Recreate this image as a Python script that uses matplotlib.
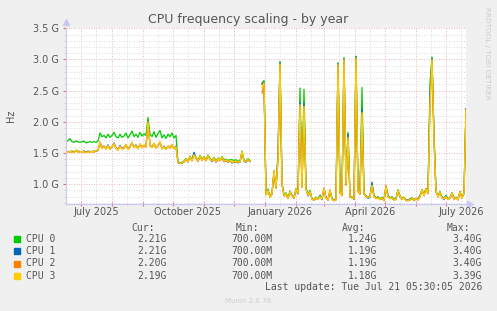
import numpy as np
import matplotlib
matplotlib.use("Agg")
import matplotlib.pyplot as plt
import matplotlib.dates as mdates
from matplotlib.ticker import MultipleLocator, FuncFormatter
from matplotlib.patches import Rectangle

nan = np.nan

# one sample every 2 days, starting 2025-06-16, values in GHz
start = np.datetime64("2025-06-16")
end = np.datetime64("2026-07-21")

cpu0 = [
    # jun - oct 2025
    1.68, 1.70, 1.73, 1.68, 1.67, 1.69, 1.68, 1.67, 1.68, 1.69,
    1.66, 1.67, 1.68, 1.67, 1.68, 1.67, 1.69, 1.82, 1.76, 1.78,
    1.74, 1.80, 1.75, 1.78, 1.83, 1.76, 1.74, 1.80, 1.75, 1.77,
    1.82, 1.74, 1.79, 1.85, 1.76, 1.80, 1.75, 1.83, 1.77, 1.81,
    1.78, 2.07, 1.80, 1.76, 1.84, 1.75, 1.81, 1.86, 1.74, 1.79,
    1.73, 1.80, 1.76, 1.82, 1.74, 1.78,
    # oct - dec 2025
    1.36, 1.34, 1.35, 1.37,
    1.41, 1.37, 1.45, 1.39, 1.48, 1.43, 1.38, 1.46, 1.40, 1.44,
    1.39, 1.47, 1.41, 1.38, 1.43, 1.37, 1.42, 1.39, 1.44, 1.39,
    1.40, 1.38, 1.39, 1.39, 1.38, 1.39, 1.37, 1.37, 1.53, 1.39,
    1.37, 1.41, 1.38,
    nan, nan, nan, nan, nan,
    # dec 2025 - jul 2026
    2.62, 2.66, 0.86, 0.92, 0.80, 0.86, 1.18, 0.96, 1.42, 2.97,
    1.02, 0.82, 0.86, 0.78, 0.89, 0.82, 0.79, 0.93, 0.86, 2.54,
    0.97, 2.52, 0.94, 0.84, 0.90, 0.76, 0.75, 0.79, 0.76, 0.82,
    0.77, 0.92, 0.79, 0.75, 0.89, 0.77, 0.74, 0.76, 2.95, 0.89,
    0.83, 3.03, 1.02, 1.83, 0.81, 0.79, 0.77, 3.05, 0.91, 0.85,
    2.55, 0.86, 0.81, 0.79, 0.81, 0.99, 0.82, 0.77, 0.80, 0.76,
    0.79, 0.75, 0.96, 0.82, 0.77, 0.80, 0.75, 0.77, 0.91, 0.81,
    0.77, 0.79, 0.75, 0.74, 0.76, 0.78, 0.75, 0.77, 0.76, 0.82,
    0.91, 0.84, 0.93, 0.86, 2.62, 3.04, 1.83, 0.89, 0.81, 0.88,
    0.79, 0.77, 0.82, 0.76, 0.79, 0.86, 0.77, 0.79, 0.76, 0.88,
    0.79, 0.86, 2.21,
]

cpu1 = [
    1.53, 1.52, 1.52, 1.53, 1.51, 1.54, 1.53, 1.52, 1.52, 1.53,
    1.51, 1.53, 1.52, 1.52, 1.53, 1.53, 1.54, 1.67, 1.59, 1.61,
    1.57, 1.63, 1.56, 1.59, 1.66, 1.58, 1.55, 1.62, 1.57, 1.59,
    1.63, 1.56, 1.61, 1.66, 1.59, 1.63, 1.57, 1.64, 1.60, 1.62,
    1.61, 2.01, 1.63, 1.59, 1.65, 1.58, 1.62, 1.67, 1.57, 1.61,
    1.56, 1.61, 1.59, 1.63, 1.57, 1.61,
    1.34, 1.33, 1.33, 1.36,
    1.39, 1.36, 1.43, 1.38, 1.51, 1.41, 1.37, 1.44, 1.39, 1.42,
    1.38, 1.45, 1.40, 1.36, 1.41, 1.35, 1.40, 1.38, 1.42, 1.36,
    1.38, 1.35, 1.37, 1.34, 1.35, 1.36, 1.34, 1.35, 1.51, 1.37,
    1.35, 1.39, 1.36,
    nan, nan, nan, nan, nan,
    2.60, 2.64, 0.83, 0.89, 0.79, 0.84, 1.19, 0.94, 1.50, 2.95,
    1.01, 0.81, 0.84, 0.77, 0.87, 0.81, 0.77, 0.91, 0.84, 2.30,
    0.96, 2.30, 0.93, 0.81, 0.87, 0.76, 0.74, 0.77, 0.76, 0.81,
    0.75, 0.92, 0.79, 0.74, 0.89, 0.77, 0.73, 0.76, 2.93, 0.87,
    0.83, 3.01, 0.99, 1.80, 0.79, 0.79, 0.75, 3.05, 0.89, 0.85,
    2.20, 0.84, 0.81, 0.77, 0.79, 1.03, 0.81, 0.77, 0.77, 0.76,
    0.76, 0.75, 0.94, 0.81, 0.77, 0.77, 0.75, 0.77, 0.89, 0.79,
    0.77, 0.77, 0.75, 0.73, 0.76, 0.76, 0.75, 0.75, 0.76, 0.81,
    0.89, 0.83, 0.91, 0.86, 2.40, 3.02, 1.75, 0.87, 0.81, 0.85,
    0.79, 0.75, 0.81, 0.76, 0.77, 0.84, 0.77, 0.77, 0.76, 0.86,
    0.79, 0.84, 2.21,
]

cpu2 = [
    1.51, 1.52, 1.52, 1.51, 1.51, 1.54, 1.51, 1.52, 1.52, 1.51,
    1.51, 1.51, 1.52, 1.52, 1.51, 1.53, 1.54, 1.65, 1.57, 1.61,
    1.56, 1.61, 1.56, 1.61, 1.64, 1.58, 1.55, 1.60, 1.57, 1.57,
    1.63, 1.56, 1.59, 1.66, 1.59, 1.61, 1.57, 1.64, 1.58, 1.62,
    1.59, 1.99, 1.61, 1.59, 1.65, 1.58, 1.62, 1.67, 1.57, 1.59,
    1.56, 1.61, 1.57, 1.63, 1.57, 1.59,
    1.35, 1.33, 1.34, 1.35,
    1.40, 1.35, 1.44, 1.37, 1.46, 1.42, 1.36, 1.45, 1.38, 1.43,
    1.37, 1.46, 1.39, 1.37, 1.42, 1.35, 1.41, 1.37, 1.43, 1.36,
    1.39, 1.35, 1.38, 1.34, 1.36, 1.36, 1.35, 1.35, 1.52, 1.37,
    1.36, 1.39, 1.37,
    nan, nan, nan, nan, nan,
    2.46, 2.60, 0.84, 0.88, 0.80, 0.86, 1.22, 0.93, 1.38, 2.92,
    0.99, 0.82, 0.83, 0.78, 0.86, 0.82, 0.77, 0.90, 0.86, 2.25,
    0.94, 2.24, 0.91, 0.83, 0.86, 0.77, 0.75, 0.76, 0.77, 0.79,
    0.77, 0.94, 0.77, 0.75, 0.91, 0.75, 0.74, 0.74, 2.90, 0.86,
    0.81, 2.98, 0.98, 1.72, 0.81, 0.77, 0.77, 3.00, 0.88, 0.83,
    2.12, 0.86, 0.79, 0.79, 0.81, 0.97, 0.79, 0.78, 0.77, 0.77,
    0.78, 0.73, 0.98, 0.79, 0.78, 0.77, 0.75, 0.75, 0.89, 0.81,
    0.75, 0.79, 0.73, 0.74, 0.74, 0.78, 0.73, 0.77, 0.74, 0.79,
    0.91, 0.81, 0.93, 0.84, 2.27, 2.98, 1.68, 0.89, 0.79, 0.87,
    0.77, 0.77, 0.79, 0.76, 0.77, 0.86, 0.75, 0.79, 0.74, 0.88,
    0.77, 0.86, 2.20,
]

cpu3 = [
    1.52, 1.51, 1.53, 1.52, 1.50, 1.55, 1.52, 1.51, 1.53, 1.52,
    1.50, 1.52, 1.51, 1.53, 1.52, 1.54, 1.55, 1.68, 1.58, 1.60,
    1.56, 1.62, 1.55, 1.60, 1.65, 1.57, 1.54, 1.61, 1.56, 1.58,
    1.64, 1.55, 1.60, 1.67, 1.58, 1.62, 1.56, 1.65, 1.59, 1.63,
    1.60, 2.00, 1.62, 1.58, 1.66, 1.57, 1.63, 1.68, 1.56, 1.60,
    1.55, 1.62, 1.58, 1.64, 1.56, 1.60,
    1.35, 1.33, 1.34, 1.36,
    1.40, 1.36, 1.44, 1.38, 1.47, 1.42, 1.37, 1.45, 1.39, 1.43,
    1.38, 1.46, 1.40, 1.37, 1.42, 1.36, 1.41, 1.38, 1.43, 1.37,
    1.39, 1.36, 1.38, 1.35, 1.36, 1.37, 1.35, 1.36, 1.52, 1.38,
    1.36, 1.40, 1.37,
    nan, nan, nan, nan, nan,
    2.55, 2.63, 0.82, 0.90, 0.78, 0.85, 1.20, 0.95, 1.40, 2.93,
    1.00, 0.80, 0.85, 0.76, 0.88, 0.80, 0.78, 0.92, 0.85, 2.28,
    0.95, 2.25, 0.92, 0.82, 0.88, 0.75, 0.74, 0.78, 0.75, 0.80,
    0.76, 0.93, 0.78, 0.74, 0.90, 0.76, 0.73, 0.75, 2.92, 0.88,
    0.82, 3.00, 1.00, 1.75, 0.80, 0.78, 0.76, 3.03, 0.90, 0.84,
    2.15, 0.85, 0.80, 0.78, 0.80, 0.98, 0.80, 0.76, 0.78, 0.75,
    0.77, 0.74, 0.95, 0.80, 0.76, 0.78, 0.74, 0.76, 0.90, 0.80,
    0.76, 0.78, 0.74, 0.73, 0.75, 0.77, 0.74, 0.76, 0.75, 0.80,
    0.90, 0.82, 0.92, 0.85, 2.25, 3.00, 1.70, 0.88, 0.80, 0.86,
    0.78, 0.76, 0.80, 0.75, 0.78, 0.85, 0.76, 0.78, 0.75, 0.87,
    0.78, 0.85, 2.19,
]

names = ["CPU 0", "CPU 1", "CPU 2", "CPU 3"]
colors = ["#00cc00", "#0066b3", "#ff8000", "#ffcc00"]
cur = ["2.21G", "2.21G", "2.20G", "2.19G"]
mins = ["700.00M", "700.00M", "700.00M", "700.00M"]
avg = ["1.24G", "1.19G", "1.19G", "1.18G"]
maxs = ["3.40G", "3.40G", "3.40G", "3.39G"]
xlabels = ["July 2025", "October 2025", "January 2026", "April 2026", "July 2026"]
xlabel_dates = ["2025-07-16", "2025-10-16", "2026-01-16", "2026-04-16", "2026-07-16"]

series = [cpu0, cpu1, cpu2, cpu3]
dates = start + np.arange(len(cpu0)) * np.timedelta64(2, "D")

W, H = 497, 311
fig = plt.figure(figsize=(W / 100, H / 100), dpi=100, facecolor="#f0f0f0")
ax = fig.add_axes([66 / W, 1 - 204 / H, 400 / W, 175.7 / H])
ax.set_facecolor("white")

txt = "#555555"
red = "#e6a3a3"
gray = "#d2d2d2"

ax.set_xlim(start, end)
ax.set_ylim(0.68, 3.5)

ax.xaxis.set_major_locator(mdates.MonthLocator(bymonthday=1))
ax.xaxis.set_minor_locator(mdates.MonthLocator(bymonthday=16))
ax.xaxis.set_major_formatter(plt.NullFormatter())
ax.yaxis.set_major_locator(MultipleLocator(0.5))
ax.yaxis.set_minor_locator(MultipleLocator(0.1))
ax.yaxis.set_major_formatter(FuncFormatter(lambda v, p: f"{v:.1f} G"))

for axis in ("x", "y"):
    ax.grid(True, which="minor", axis=axis, color=gray, lw=0.6, ls=(0, (1, 2)))
    ax.grid(True, which="major", axis=axis, color=red, lw=0.6, ls=(0, (1, 2)))
ax.set_axisbelow(True)

ax.tick_params(which="major", axis="x", color="#e07070", length=3, direction="inout")
ax.tick_params(which="minor", axis="x", color="#bbbbbb", length=2, direction="inout")
ax.tick_params(which="major", axis="y", color="#e07070", length=2, direction="out",
               labelsize=7, labelcolor=txt, pad=3)
ax.tick_params(which="minor", axis="y", color="#cccccc", length=1.5)

for s in ("top", "right"):
    ax.spines[s].set_visible(False)
for s in ("left", "bottom"):
    ax.spines[s].set_color("#c8c8f0")
    ax.spines[s].set_linewidth(0.8)
ax.plot([0], [1.035], marker="^", ms=4, color="#c8c8f0", transform=ax.transAxes, clip_on=False)
ax.plot([1.01], [0], marker=">", ms=4, color="#c8c8f0", transform=ax.transAxes, clip_on=False)

for vals, c in zip(series, colors):
    ax.plot(dates, np.array(vals, dtype=float), color=c, lw=0.9)

for lab, d in zip(xlabels, xlabel_dates):
    ax.text(np.datetime64(d), -0.047, lab, transform=ax.get_xaxis_transform(),
            ha="center", va="center", fontsize=7, color=txt)

fig.text(0.5, 1 - 23 / H, "CPU frequency scaling - by year", ha="center", va="baseline",
         fontsize=9, color=txt)
fig.text(11 / W, 1 - 116 / H, "Hz", rotation=90, ha="center", va="center", fontsize=7, color=txt)
fig.text(487 / W, 1 - 53 / H, "RRDTOOL / TOBI OETIKER", rotation=270, ha="center", va="center",
         fontsize=5.2, color="#cccccc")

mono = dict(family="DejaVu Sans Mono", fontsize=7, color=txt, va="center")
header_y = 227.7
fig.text(155 / W, 1 - header_y / H, "Cur:", ha="right", **mono)
fig.text(259 / W, 1 - header_y / H, "Min:", ha="right", **mono)
fig.text(365 / W, 1 - header_y / H, "Avg:", ha="right", **mono)
fig.text(470 / W, 1 - header_y / H, "Max:", ha="right", **mono)
for k in range(4):
    y = 239.3 + k * 12.1
    fig.patches.append(Rectangle((14 / W, 1 - (y + 3) / H), 6 / W, 6 / H,
                                 transform=fig.transFigure, color=colors[k]))
    fig.text(26.5 / W, 1 - y / H, names[k], ha="left", **mono)
    fig.text(167 / W, 1 - y / H, cur[k], ha="right", **mono)
    fig.text(272 / W, 1 - y / H, mins[k], ha="right", **mono)
    fig.text(377 / W, 1 - y / H, avg[k], ha="right", **mono)
    fig.text(482 / W, 1 - y / H, maxs[k], ha="right", **mono)
fig.text(482 / W, 1 - 286.7 / H, "Last update: Tue Jul 21 05:30:05 2026", ha="right", **mono)
fig.text(0.5, 1 - 300.7 / H, "Munin 2.0.76", ha="center", va="center", fontsize=5, color="#cccccc")

fig.savefig("out.png", dpi=100, facecolor=fig.get_facecolor())
